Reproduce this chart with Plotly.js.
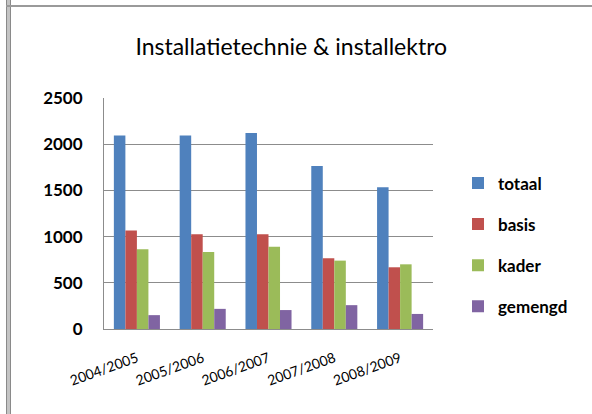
<!DOCTYPE html>
<html>
<head>
<meta charset="utf-8">
<script src="https://cdn.plot.ly/plotly-3.0.1.min.js"></script>
<style>
  body { margin: 0; background: #fff; }
  #chart { position: absolute; left: 0; top: 0; width: 592px; height: 414px; }
  /* worksheet frame around the embedded chart */
  #frameLeft { position: absolute; left: 6px; top: 0; width: 3px; height: 414px;
               background: #c4c4c4; border-left: 1px solid #8a8a8a; border-right: 1px solid #8a8a8a; }
  #frameTop { position: absolute; left: 6px; top: 5px; width: 586px; height: 2px; background: #9a9a9a; }
</style>
</head>
<body>
<div id="chart"></div>
<div id="frameLeft"></div>
<div id="frameTop"></div>
<script>
// ------------------- Data -------------------
var years = ['2004/2005', '2005/2006', '2006/2007', '2007/2008', '2008/2009'];
var totaal = [2095, 2095, 2120, 1765, 1535];
var basis = [1065, 1025, 1025, 765, 668];
var kader = [862, 834, 890, 740, 700];
var gemengd = [150, 218, 205, 258, 163];

var seriesNames = ['totaal', 'basis', 'kader', 'gemengd'];
var seriesColors = ['#4F81BD', '#C0504D', '#9BBB59', '#8064A2'];

// ------------------- Plot -------------------
function makeTrace(name, values, color) {
    return {
        x: years,
        y: values,
        name: name,
        legendgroup: name,
        type: 'bar',
        marker: { color: color }
    };
}

var data = [
    makeTrace(seriesNames[0], totaal, seriesColors[0]),
    makeTrace(seriesNames[1], basis, seriesColors[1]),
    makeTrace(seriesNames[2], kader, seriesColors[2]),
    makeTrace(seriesNames[3], gemengd, seriesColors[3])
];

var layout = {
    width: 592,
    height: 414,
    margin: { l: 104, r: 159, t: 98, b: 85 },
    paper_bgcolor: 'rgba(0,0,0,0)',
    plot_bgcolor: '#fff',
    font: { family: 'Lato, "Open Sans", sans-serif', color: '#000' },
    title: {
        text: 'Installatietechnie & installektro',
        font: { size: 23, color: '#000' },
        x: 0.492,
        xanchor: 'center',
        yref: 'container',
        y: 0.886,
        yanchor: 'middle'
    },
    barmode: 'group',
    bargap: 0.3,
    bargroupgap: 0,
    showlegend: true,
    legend: {
        x: 1.076,
        xanchor: 'left',
        y: 0.364,
        yanchor: 'middle',
        traceorder: 'grouped',
        tracegroupgap: 16,
        font: { size: 17, weight: 'bold' },
        itemwidth: 30
    },
    xaxis: {
        type: 'category',
        tickangle: -20,
        tickfont: { size: 14 },
        showline: true,
        linecolor: '#8c8c8c',
        linewidth: 1,
        ticks: '',
        showgrid: false,
        ticklabelstandoff: 15
    },
    yaxis: {
        range: [0, 2500],
        tickvals: [0, 500, 1000, 1500, 2000, 2500],
        tickfont: { size: 17, weight: 'bold' },
        showgrid: true,
        gridcolor: '#8c8c8c',
        gridwidth: 1,
        showline: true,
        linecolor: '#8c8c8c',
        linewidth: 1,
        zeroline: false,
        ticks: '',
        ticklabelstandoff: 17
    }
};

Plotly.newPlot('chart', data, layout, { displayModeBar: false, staticPlot: true });
</script>
</body>
</html>
